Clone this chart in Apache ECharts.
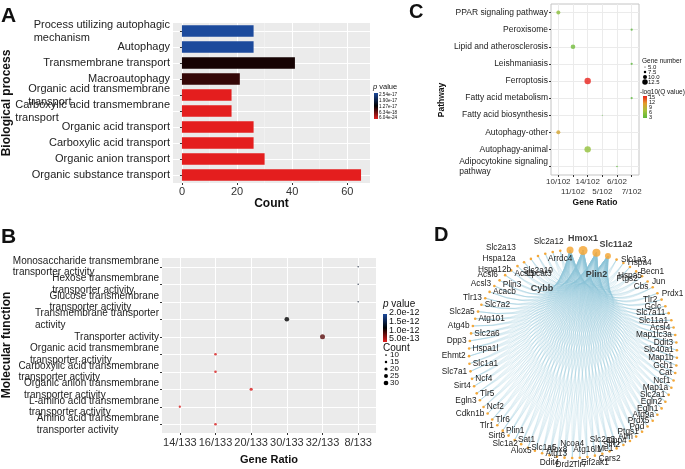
<!DOCTYPE html>
<html><head><meta charset="utf-8">
<script src="https://cdn.jsdelivr.net/npm/echarts@6/dist/echarts.min.js"></script>
<style>html,body{margin:0;padding:0;background:#fff}#c{width:685px;height:469px}</style>
</head><body><div id="c"></div>
<script>
const FONT = '"Liberation Sans", Arial, Helvetica, sans-serif';

// ---------- Panel A : Biological process ----------
const bpTerms = ['Process utilizing autophagic\nmechanism', 'Autophagy', 'Transmembrane transport', 'Macroautophagy',
  'Organic acid transmembrane\ntransport', 'Carboxylic acid transmembrane\ntransport', 'Organic acid transport',
  'Carboxylic acid transport', 'Organic anion transport', 'Organic substance transport'];
const bpCount = [26, 26, 41, 21, 18, 18, 26, 26, 30, 65];
const bpPValue = [2.54e-17, 2.54e-17, 1.15e-17, 0.98e-17, 6.04e-24, 6.04e-24, 6.04e-24, 6.04e-24, 6.04e-24, 6.04e-24];
const bpTicks = [0, 20, 40, 60];
const bpMinorTicks = [10, 30, 50];
const bpLegendLabels = ['2.54e-17', '1.90e-17', '1.27e-17', '6.34e-18', '6.04e-24'];

// ---------- Panel B : Molecular function ----------
const mfTerms = ['Monosaccharide transmembrane\ntransporter activity', 'Hexose transmembrane\ntransporter activity',
  'Glucose transmembrane\ntransporter activity', 'Transmembrane transporter\nactivity', 'Transporter activity',
  'Organic acid transmembrane\ntransporter activity', 'Carboxylic acid transmembrane\ntransporter activity',
  'Organic anion transmembrane\ntransporter activity', 'L-amino acid transmembrane\ntransporter activity',
  'Amino acid transmembrane\ntransporter activity'];
const mfRatioCats = ['14/133', '16/133', '20/133', '30/133', '32/133', '8/133'];
const mfRatio = ['8/133', '8/133', '8/133', '30/133', '32/133', '16/133', '16/133', '20/133', '14/133', '16/133'];
const mfCount = [8, 8, 8, 30, 32, 16, 16, 20, 14, 16];
const mfPValue = [1.5e-12, 1.5e-12, 1.5e-12, 1.28e-12, 9.5e-13, 5.0e-13, 5.0e-13, 5.0e-13, 5.0e-13, 5.0e-13];
const mfLegendLabels = ['2.0e-12', '1.5e-12', '1.0e-12', '5.0e-13'];
const mfCountLegend = [10, 15, 20, 25, 30];

// ---------- Panel C : KEGG pathway ----------
const kgTerms = ['PPAR signaling pathway', 'Peroxisome', 'Lipid and atherosclerosis', 'Leishmaniasis', 'Ferroptosis',
  'Fatty acid metabolism', 'Fatty acid biosynthesis', 'Autophagy-other', 'Autophagy-animal',
  'Adipocytokine signaling\npathway'];
const kgRatioCats = ['10/102', '11/102', '14/102', '5/102', '6/102', '7/102'];
const kgRatio = ['10/102', '7/102', '11/102', '7/102', '14/102', '7/102', '5/102', '10/102', '14/102', '6/102'];
const kgGeneNumber = [10, 7, 11, 7, 14, 7, 5, 10, 14, 6];
const kgLogQ = [5.5, 3, 4.2, 3, 15, 3, 3, 10, 6, 3];
const kgSizeLegend = ['5.0', '7.5', '10.0', '12.5'];
const kgSizeLegendValues = [5, 7.5, 10, 12.5];
const kgColorLegend = ['15', '12', '9', '6', '3'];

// ---------- Panel D : gene network ----------
const geneRing = ['Map1b', 'Gch1', 'Cat', 'Ncf1', 'Map1a', 'Slc2a1', 'Egln2', 'Egln1', 'Atg9a', 'Prdx5', 'Pgd', 'Ptgs1',
  'Atm', 'Dpp4', 'Sirt2', 'Me1', 'Cars2', 'Slc2a3', 'Eif2ak1', 'Atg16l1', 'Tlr7', 'Ncoa4', 'Drd2', 'Alox8', 'Ddit4',
  'Atg13', 'Alox5', 'Slc1a5', 'Slc1a2', 'Sat1', 'Sirt6', 'Plin1', 'Tlr1', 'Tlr6', 'Cdkn1b', 'Ncf2', 'Egln3', 'Tlr5',
  'Sirt4', 'Ncf4', 'Slc7a1', 'Slc1a1', 'Ehmt2', 'Hspa1l', 'Dpp3', 'Slc2a6', 'Atg4b', 'Atg101', 'Slc2a5', 'Slc7a2',
  'Tlr13', 'Acacb', 'Acsl3', 'Plin3', 'Acsl6', 'Acsl5', 'Hspa12b', 'Hspa12a', 'Slc2a13', 'Slc2a10', 'Lpcat3',
  'Slc2a12', 'Arrdc4', 'Cybb', 'Hmox1', 'Plin2', 'Slc11a2', 'Slc1a3', 'Hspa4', 'Hspa5', 'Becn1', 'Ptgs2', 'Jun',
  'Cbs', 'Prdx1', 'Tlr2', 'Gclc', 'Slc7a11', 'Slc11a1', 'Acsl4', 'Map1lc3a', 'Ddit3', 'Slc40a1'];
const hubGenes = ['Cybb', 'Hmox1', 'Plin2', 'Slc11a2'];
const hubSize = [7, 9, 8, 6];

// label placement (style only) for the crowded top of the ring: [position, distance, dx, dy]
const labelPlace = {
  Acsl3: ['left', 2, 0, -2], Plin3: ['right', 2, 0, 4], Acsl6: ['left', 2, -4, 0], Acsl5: ['right', 2, 0, 3],
  Hspa12b: ['left', 3, -2, 4], Hspa12a: ['left', 3, -4, -4], Slc2a13: ['top', 3, -30, -3],
  Slc2a10: ['bottom', 9, 0, 0], Lpcat3: ['bottom', 15, -6, 0], Slc2a12: ['top', 5, -4, 0], Arrdc4: ['bottom', 3, 0, 0],
  Cybb: ['bottom', 30, -28, 0], Hmox1: ['top', 3, 0, 0], Plin2: ['bottom', 13, 0, 0], Slc11a2: ['top', 4, 8, 0],
  Slc1a3: ['right', 3, 0, 0], Hspa4: ['right', 3, 0, 0], Hspa5: ['bottom', 3, 0, 0], Becn1: ['right', 3, 0, 0],
  Ptgs2: ['left', 3, 0, 2], Jun: ['right', 3, 0, 0], Cbs: ['left', 3, 0, 0], Prdx1: ['right', 3, 0, 0],
  Tlr2: ['left', 3, 0, 0], Gclc: ['left', 3, 0, 0]
};

// ---------- build ----------
const richLabel = (fs, lh) => ({
  formatter: v => v.split('\n').map(s => '{a|' + s + '}').join('\n'),
  rich: { a: { align: 'left', fontSize: fs, lineHeight: lh, color: '#222', fontFamily: FONT } }
});
const seq = n => Array.from({ length: n }, (_, i) => i + 1);

const N = geneRing.length;
const nodes = geneRing.map((g, i) => {
  const a = (i + 0.5) / N * 2 * Math.PI;
  const c = Math.cos(a), s = Math.sin(a);
  const h = hubGenes.indexOf(g);
  let pos, dist = 2, off = [0, 0];
  if (c > 0.35) pos = 'left';
  else if (c < -0.35) pos = (i % 2) ? 'right' : 'left';
  else if (s > 0) { pos = (i % 2) ? 'top' : 'bottom'; dist = (i % 4 === 1) ? 9 : 2; }
  else pos = (i % 2) ? 'left' : 'top';
  const lp = labelPlace[g];
  if (lp) { pos = lp[0]; dist = lp[1]; off = [lp[2], lp[3]]; }
  return {
    name: g,
    symbolSize: h >= 0 ? hubSize[h] : 2.6,
    itemStyle: { color: '#f4a83a', opacity: h >= 0 ? 0.85 : 1 },
    label: { position: pos, distance: dist, offset: off, fontWeight: h >= 0 ? 'bold' : 'normal', fontSize: h >= 0 ? 9 : 8.3 }
  };
});
const links = [];
hubGenes.forEach(hb => geneRing.forEach(g => { if (hubGenes.indexOf(g) < 0) links.push({ source: hb, target: g }); }));

const txt = (text, x, y, o) => ({
  type: 'text', x, y, silent: true,
  style: Object.assign({ text, fill: '#111', fontFamily: FONT, fontSize: 10, align: 'left', verticalAlign: 'middle' }, o || {})
});
const gradRect = (x, y, w, h, stops) => ({
  type: 'rect', shape: { x, y, width: w, height: h }, silent: true,
  style: { fill: new echarts.graphic.LinearGradient(0, 0, 0, 1, stops.map((c, i) => ({ offset: i / (stops.length - 1), color: c }))) }
});
const vtxt = (text, x, y, o) => Object.assign(txt(text, x, y, Object.assign({ align: 'center' }, o)), { rotation: Math.PI / 2 });

const graphics = [
  txt('A', 1, 16, { fontSize: 21, fontWeight: 'bold' }),
  txt('B', 1, 237, { fontSize: 21, fontWeight: 'bold' }),
  txt('C', 409, 12, { fontSize: 20, fontWeight: 'bold' }),
  txt('D', 434, 235, { fontSize: 20, fontWeight: 'bold' }),
  vtxt('Biological process', 7, 103, { fontSize: 12, fontWeight: 'bold' }),
  vtxt('Molecular function', 7, 345, { fontSize: 12, fontWeight: 'bold' }),
  vtxt('Pathway', 442, 100, { fontSize: 8.5, fontWeight: 'bold' }),
  // A legend
  txt('{i|p} value', 373, 87, { fontSize: 7.5, rich: { i: { fontStyle: 'italic', fontSize: 7.5, fontFamily: FONT } } }),
  gradRect(374, 93, 4, 26, ['#1c4a9c', '#000000', '#e41e1e']),
  // B legend
  txt('{i|p} value', 383, 304, { fontSize: 10, rich: { i: { fontStyle: 'italic', fontSize: 10, fontFamily: FONT } } }),
  gradRect(383, 314, 4, 28, ['#1c4a9c', '#000000', '#e41e1e']),
  txt('Count', 383, 348, { fontSize: 10 }),
  // C legend
  txt('Gene number', 642, 61, { fontSize: 6.5 }),
  txt('-log10(Q value)', 640, 92, { fontSize: 6.5 }),
  gradRect(643, 96, 4, 22, ['#e8221c', '#e39a2a', '#a4c23a', '#5db83b'])
];
bpLegendLabels.forEach((t, i) => graphics.push(txt(t, 379, 95 + i * 5.8, { fontSize: 4.6 })));
mfLegendLabels.forEach((t, i) => graphics.push(txt(t, 389, 313 + i * 8.6, { fontSize: 9 })));
mfCountLegend.forEach((v, i) => {
  const y = 355 + i * 7;
  const d = 0.15 * v + 0.2;
  graphics.push({ type: 'circle', shape: { cx: 386, cy: y, r: d / 2 }, style: { fill: '#000' }, silent: true });
  graphics.push(txt(String(v), 390, y, { fontSize: 8 }));
});
kgSizeLegend.forEach((t, i) => {
  const y = 67 + i * 5;
  const d = 0.6 * kgSizeLegendValues[i] - 2;
  graphics.push({ type: 'circle', shape: { cx: 645, cy: y, r: d / 2 }, style: { fill: '#000' }, silent: true });
  graphics.push(txt(t, 648, y, { fontSize: 6 }));
});
kgColorLegend.forEach((t, i) => graphics.push(txt(t, 649, 97 + i * 5, { fontSize: 5.5 })));

const hiddenVal = (gridIndex, min, max, custom, color, width, inverse) => ({
  type: 'value', gridIndex, min, max, inverse: !!inverse,
  axisLine: { show: false }, axisLabel: { show: false },
  axisTick: { show: false, customValues: custom },
  splitLine: { show: true, lineStyle: { color, width } }
});

const option = {
  animation: false,
  textStyle: { fontFamily: FONT },
  grid: [
    { left: 173, top: 23, width: 197, height: 160, show: true, backgroundColor: '#ebebeb', borderWidth: 0 },
    { left: 162, top: 258, width: 214, height: 175, show: true, backgroundColor: '#ebebeb', borderWidth: 0 },
    { left: 551, top: 4, width: 88, height: 171, show: true, backgroundColor: '#ffffff', borderColor: '#c4c4c4', borderWidth: 1 }
  ],
  xAxis: [
    { type: 'value', gridIndex: 0, min: -3.25, max: 68.25,
      axisLine: { show: false },
      axisTick: { show: true, length: 2, customValues: bpTicks, lineStyle: { color: '#333' } },
      axisLabel: { customValues: bpTicks, fontSize: 11, color: '#333', margin: 3 },
      splitLine: { show: true, lineStyle: { color: '#ffffff', width: 1 } },
      name: 'Count', nameLocation: 'middle', nameGap: 14,
      nameTextStyle: { fontSize: 12, fontWeight: 'bold', color: '#111' } },
    hiddenVal(0, -3.25, 68.25, bpMinorTicks, '#f6f6f6', 0.5),
    { type: 'category', gridIndex: 1, data: mfRatioCats, boundaryGap: true,
      axisLine: { show: false },
      axisTick: { show: true, length: 2, alignWithLabel: true, interval: 0, lineStyle: { color: '#333' } },
      axisLabel: { fontSize: 11, color: '#333', margin: 4, interval: 0 },
      splitLine: { show: false },
      name: 'Gene Ratio', nameLocation: 'middle', nameGap: 21,
      nameTextStyle: { fontSize: 11, fontWeight: 'bold', color: '#111' } },
    hiddenVal(1, 0.5, 6.5, seq(6), '#ffffff', 1),
    { type: 'category', gridIndex: 2, data: kgRatioCats, boundaryGap: true,
      axisLine: { show: false },
      axisTick: { show: true, length: 2, alignWithLabel: true, interval: 0, lineStyle: { color: '#333' } },
      axisLabel: { fontSize: 8, color: '#333', margin: 2, lineHeight: 10, interval: 0,
        formatter: (v, i) => (i % 2 ? '\n' + v : v) },
      splitLine: { show: false },
      name: 'Gene Ratio', nameLocation: 'middle', nameGap: 21,
      nameTextStyle: { fontSize: 8.5, fontWeight: 'bold', color: '#111' } },
    hiddenVal(2, 0.5, 6.5, seq(6), '#ebebeb', 1)
  ],
  yAxis: [
    { type: 'category', gridIndex: 0, data: bpTerms, inverse: true,
      axisLine: { show: false },
      axisTick: { show: true, length: 2, alignWithLabel: true, lineStyle: { color: '#333' } },
      axisLabel: Object.assign({ margin: 3, interval: 0 }, richLabel(11, 13)),
      splitLine: { show: false } },
    hiddenVal(0, 0.5, 10.5, seq(10), '#ffffff', 1, true),
    { type: 'category', gridIndex: 1, data: mfTerms, inverse: true,
      axisLine: { show: false },
      axisTick: { show: true, length: 2, alignWithLabel: true, lineStyle: { color: '#333' } },
      axisLabel: Object.assign({ margin: 3, interval: 0 }, richLabel(10, 11.5)),
      splitLine: { show: false } },
    hiddenVal(1, 0.5, 10.5, seq(10), '#ffffff', 1, true),
    { type: 'category', gridIndex: 2, data: kgTerms, inverse: true,
      axisLine: { show: false },
      axisTick: { show: true, length: 2, alignWithLabel: true, lineStyle: { color: '#333' } },
      axisLabel: Object.assign({ margin: 3, interval: 0 }, richLabel(8.5, 10)),
      splitLine: { show: false } },
    hiddenVal(2, 0.5, 10.5, seq(10), '#ebebeb', 1, true)
  ],
  visualMap: [
    { show: false, seriesIndex: 0, dimension: 2, min: 6.04e-24, max: 2.54e-17,
      inRange: { color: ['#e41e1e', '#000000', '#1c4a9c'] } },
    { show: false, seriesIndex: 1, dimension: 3, min: 4.5e-13, max: 2.1e-12,
      inRange: { color: ['#e41e1e', '#000000', '#1c4a9c'] } },
    { show: false, seriesIndex: 2, dimension: 3, min: 3, max: 15,
      inRange: { color: ['#5db83b', '#a4c23a', '#e39a2a', '#e8221c'] } }
  ],
  series: [
    { type: 'bar', xAxisIndex: 0, yAxisIndex: 0, barWidth: 11.5, z: 3,
      data: bpCount.map((c, i) => [c, bpTerms[i], bpPValue[i]]),
      encode: { x: 0, y: 1 } },
    { type: 'scatter', xAxisIndex: 2, yAxisIndex: 2, z: 3,
      data: mfRatio.map((r, i) => [r, mfTerms[i], mfCount[i], mfPValue[i]]),
      encode: { x: 0, y: 1 },
      symbolSize: v => 0.15 * v[2] + 0.2 },
    { type: 'scatter', xAxisIndex: 4, yAxisIndex: 4, z: 3,
      data: kgRatio.map((r, i) => [r, kgTerms[i], kgGeneNumber[i], kgLogQ[i]]),
      encode: { x: 0, y: 1 },
      symbolSize: v => 0.6 * v[2] - 2 },
    { type: 'graph', layout: 'circular', left: 469, top: 250, width: 208, height: 208,
      circular: { rotateLabel: false }, roam: false, symbol: 'circle',
      label: { show: true, color: '#222', fontFamily: FONT },
      lineStyle: { color: '#8cc4d8', width: 0.5, opacity: 0.5, curveness: 0.2 },
      emphasis: { disabled: true },
      data: nodes, links: links }
  ],
  graphic: graphics
};
const chart = echarts.init(document.getElementById('c'));
chart.setOption(option);
</script>
</body></html>
